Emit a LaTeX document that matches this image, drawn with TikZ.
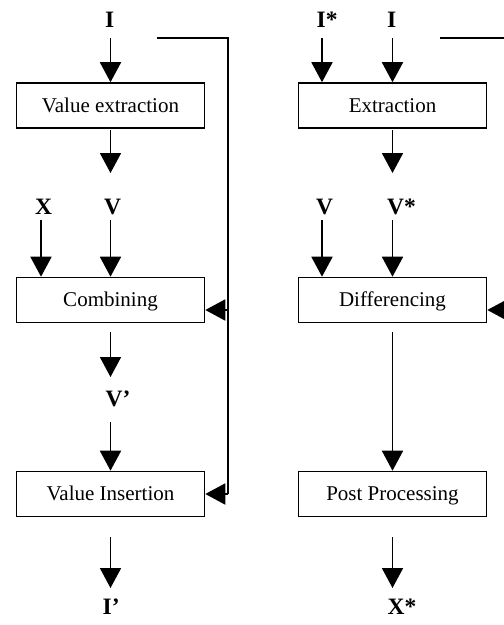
\documentclass[tikz,border=0pt]{standalone}
\usepackage{fontspec}
\setmainfont{Liberation Serif}
\usetikzlibrary{arrows.meta}
\tikzset{
  procbox/.style={draw, line width=1.6pt, minimum width=188pt, minimum height=45pt,
    inner sep=0pt, text height=13.8pt, text depth=0pt, font=\fontsize{21}{24}\selectfont},
  lbl/.style={anchor=base west, inner sep=0pt, font=\fontsize{23.5}{27}\selectfont\bfseries},
  arr/.style={line width=1.9pt, -{Triangle[length=20pt,width=21pt]}},
  ln/.style={line width=1.9pt}
}
\begin{document}
\begin{tikzpicture}[x=1pt,y=-1pt]
\useasboundingbox (0,0) rectangle (504,625);
\clip (0,0) rectangle (504,625);
\fill[white] (0,0) rectangle (504,625);

% ---------- left column ----------
\node[procbox] (vext) at (110.5,105.5) {Value extraction};
\node[procbox] (comb) at (110.5,300) {Combining};
\node[procbox] (vins) at (110.5,494) {Value Insertion};

\node[lbl] (lI)  at (105,27)  {I};
\node[lbl] (lX)  at (35,214) {X};
\node[lbl] (lV)  at (104,214) {V};
\node[lbl] (lVp) at (105.5,406) {V’};
\node[lbl] (lIp) at (102.5,614) {I’};

\coordinate (aI)   at (110.5,38);
\coordinate (aE1)  at (110.5,130);
\coordinate (aE2)  at (110.5,173);
\coordinate (aX)   at (41,220);
\coordinate (aV)   at (110.5,220);
\coordinate (aC1)  at (110.5,332);
\coordinate (aC2)  at (110.5,377);
\coordinate (aVp)  at (110.5,422);
\coordinate (aN1)  at (110.5,537);
\coordinate (aN2)  at (110.5,588);
\coordinate (fbA)  at (157,38);
\coordinate (fbB)  at (228,38);
\coordinate (fbC)  at (228,310);
\coordinate (fbD)  at (228,494);

\draw[arr] (aI) -- (vext.north);
\draw[arr] (aE1) -- (aE2);
\draw[arr] (aX) -- (aX |- comb.north);
\draw[arr] (aV) -- (comb.north);
\draw[arr] (aC1) -- (aC2);
\draw[arr] (aVp) -- (vins.north);
\draw[arr] (aN1) -- (aN2);
\draw[ln] (fbA) -- (fbB) -- (fbD);
\draw[arr] (fbD) -- (vins.east);
\draw[arr] (fbC) -- (comb.east |- fbC);

% ---------- right column ----------
\node[procbox] (extr) at (392.5,105.5) {Extraction};
\node[procbox] (diff) at (392.5,300) {Differencing};
\node[procbox] (post) at (392.5,494) {Post Processing};

\node[lbl] (lIs) at (316.5,27) {I*};
\node[lbl] (lI2) at (387,27) {I};
\node[lbl] (lV2) at (316,214) {V};
\node[lbl] (lVs) at (387,214) {V*};
\node[lbl] (lXs) at (387.5,614) {X*};

\coordinate (bIs) at (322,38);
\coordinate (bI)  at (392.5,38);
\coordinate (bE1) at (392.5,130);
\coordinate (bE2) at (392.5,173);
\coordinate (bV)  at (322,220);
\coordinate (bVs) at (392.5,220);
\coordinate (bD1) at (392.5,332);
\coordinate (bP1) at (392.5,537);
\coordinate (bP2) at (392.5,588);
\coordinate (gbA) at (440,38);
\coordinate (gbB) at (511,38);
\coordinate (gbC) at (511,310);

\draw[arr] (bIs) -- (bIs |- extr.north);
\draw[arr] (bI) -- (extr.north);
\draw[arr] (bE1) -- (bE2);
\draw[arr] (bV) -- (bV |- diff.north);
\draw[arr] (bVs) -- (diff.north);
\draw[arr] (bD1) -- (post.north);
\draw[arr] (bP1) -- (bP2);
\draw[ln] (gbA) -- (gbB) -- (gbC);
\draw[arr] (gbC) -- (diff.east |- gbC);
\end{tikzpicture}
\end{document}
